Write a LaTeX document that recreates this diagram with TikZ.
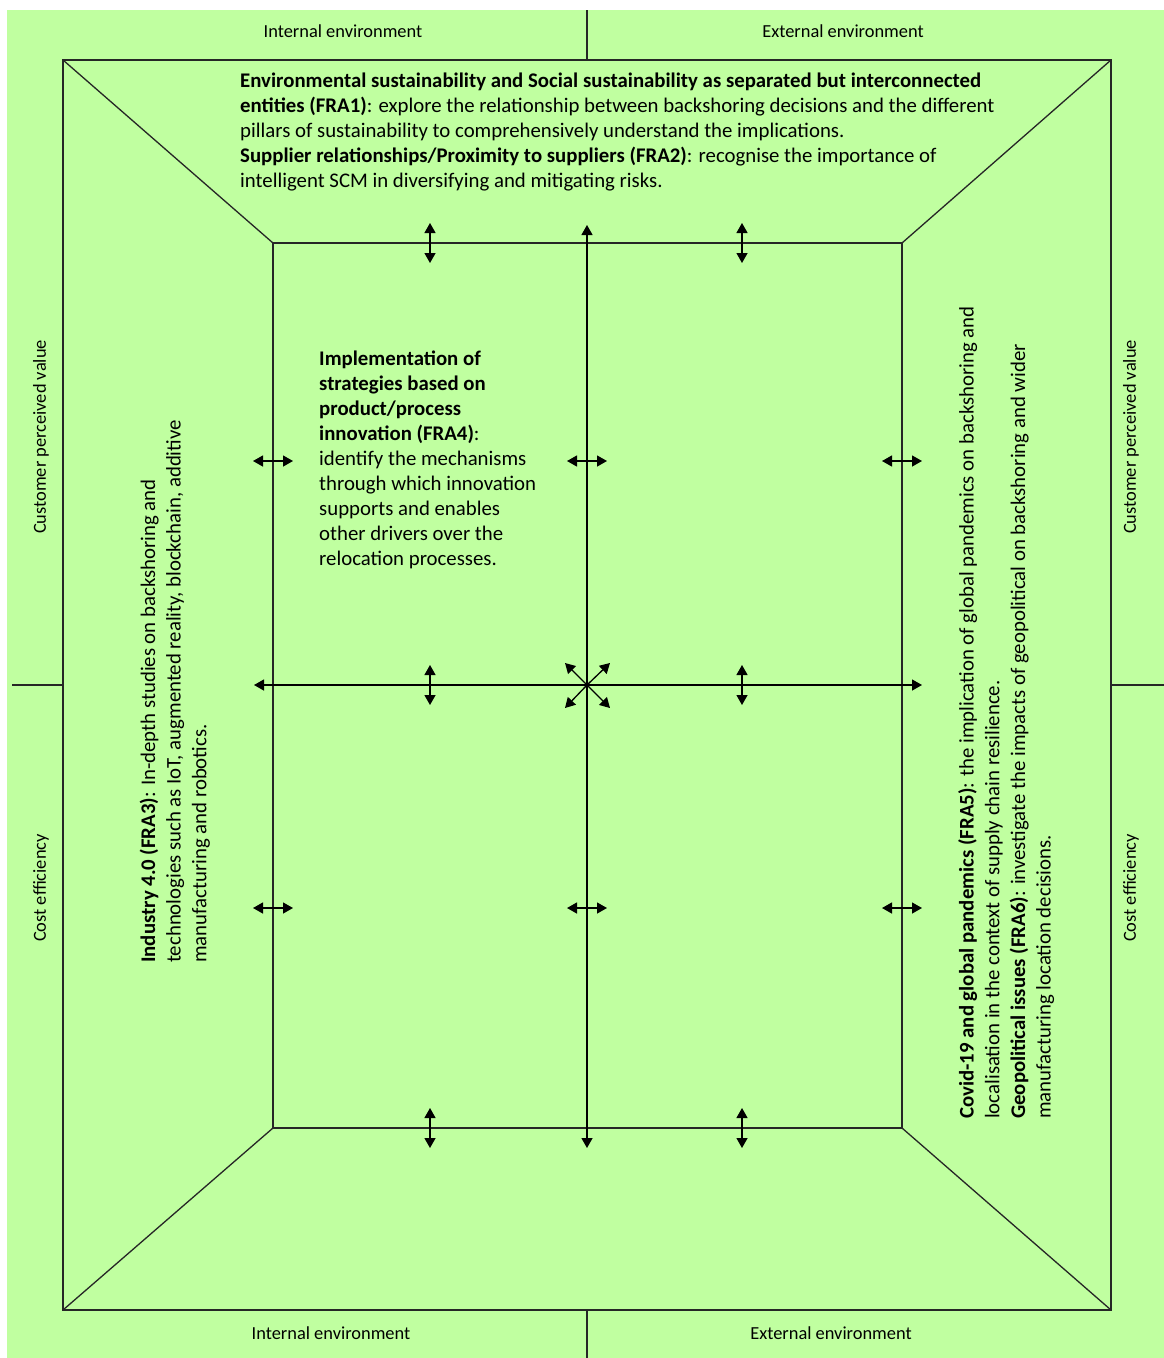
\documentclass[tikz,border=0pt]{standalone}
\usepackage{fontspec}
\setmainfont{Carlito}
\usetikzlibrary{arrows.meta}
\definecolor{panel}{RGB}{192,255,160}
\tikzset{
  frameline/.style={line width=1.8pt,draw=black!85},
  thinline/.style={line width=1.3pt,draw=black!85},
  dbl/.style={line width=1.3pt,{Triangle[length=10pt,width=11pt]}-{Triangle[length=10pt,width=11pt]}},
  sgl/.style={line width=1.3pt,-{Triangle[length=10pt,width=11pt]}},
  sidelab/.style={font=\fontsize{18.4}{22}\selectfont,inner sep=0pt},
  bodytext/.style={font=\fontsize{20.8}{25}\selectfont,inner sep=0pt,align=left},
  sidetext/.style={font=\fontsize{20.8}{25.7}\selectfont,inner sep=0pt,align=left,rotate=90,anchor=north west},
}
\begin{document}
\begin{tikzpicture}[x=1pt,y=-1pt]
% page and panel
\useasboundingbox (0,0) rectangle (1164,1358);
\fill[white] (0,0) rectangle (1164,1358);
\fill[panel] (7,10) rectangle (1164,1358);

% frame corners
\coordinate (o1) at (63,60);   \coordinate (o2) at (1111,60);
\coordinate (o3) at (1111,1310); \coordinate (o4) at (63,1310);
\coordinate (i1) at (273,243); \coordinate (i2) at (902,243);
\coordinate (i3) at (902,1128); \coordinate (i4) at (273,1128);
\coordinate (c) at (587,685);

\draw[frameline] (o1) -- (o2) -- (o3) -- (o4) -- cycle;
\draw[thinline] (i1) -- (i2) -- (i3) -- (i4) -- cycle;
\draw[thinline] (o1) -- (i1) (o2) -- (i2) (o3) -- (i3) (o4) -- (i4);

% outer dividers
\coordinate (tt) at (587,10);  \coordinate (tb) at (587,60);
\coordinate (bt) at (587,1310); \coordinate (bb) at (587,1358);
\coordinate (ll) at (12,685);  \coordinate (lr) at (63,685);
\coordinate (rl) at (1111,685); \coordinate (rr) at (1164,685);
\draw[thinline] (tt) -- (tb) (bt) -- (bb) (ll) -- (lr) (rl) -- (rr);

% central axes
\coordinate (vt) at (587,225); \coordinate (vb) at (587,1148);
\coordinate (hl) at (254,685); \coordinate (hr) at (922,685);
\draw[dbl] (vt) -- (vb);
\draw[dbl] (hl) -- (hr);

% diagonal arrows from the centre
\coordinate (xa) at (565,663); \coordinate (xb) at (610,663);
\coordinate (xd) at (565,708); \coordinate (xe) at (610,708);
\draw[sgl] (c) -- (xa);
\draw[sgl] (c) -- (xb);
\draw[sgl] (c) -- (xd);
\draw[sgl] (c) -- (xe);

% small vertical double arrows
\foreach \x in {430,742}{
  \foreach \y in {243,685,1128}{
    \coordinate (ua) at (\x,\y-20);
    \coordinate (ub) at (\x,\y+20);
    \draw[dbl] (ua) -- (ub);
  }
}
% small horizontal double arrows
\foreach \y in {461,908}{
  \foreach \x in {273,587,902}{
    \coordinate (ua) at (\x-20,\y);
    \coordinate (ub) at (\x+20,\y);
    \draw[dbl] (ua) -- (ub);
  }
}

% edge labels
\node[sidelab] (lt1) at (343,31) {Internal environment};
\node[sidelab] (lt2) at (843,31) {External environment};
\node[sidelab] (lb1) at (331,1333) {Internal environment};
\node[sidelab] (lb2) at (831,1333) {External environment};
\node[sidelab,rotate=90] (sl1) at (41,437) {Customer perceived value};
\node[sidelab,rotate=90] (sl2) at (41,888) {Cost efficiency};
\node[sidelab,rotate=90] (sr1) at (1131,437) {Customer perceived value};
\node[sidelab,rotate=90] (sr2) at (1131,888) {Cost efficiency};

% top block
\node[bodytext,anchor=north west] (fra12) at (240,72.7) {%
\textbf{Environmental sustainability and Social sustainability as separated but interconnected}\\
\textbf{entities (FRA1)}: explore the relationship between backshoring decisions and the different\\
pillars of sustainability to comprehensively understand the implications.\\
\textbf{Supplier relationships/Proximity to suppliers (FRA2)}: recognise the importance of\\
intelligent SCM in diversifying and mitigating risks.};

% centre block
\node[bodytext,anchor=north west] (fra4) at (319,350.7) {%
\textbf{Implementation of}\\
\textbf{strategies based on}\\
\textbf{product/process}\\
\textbf{innovation (FRA4)}:\\
identify the mechanisms\\
through which innovation\\
supports and enables\\
other drivers over the\\
relocation processes.};

% left block
\node[sidetext] (fra3) at (139.4,963) {%
\textbf{Industry 4.0 (FRA3)}: In-depth studies on backshoring and\\
technologies such as IoT, augmented reality, blockchain, additive\\
manufacturing and robotics.};

% right block
\node[sidetext] (fra56) at (958,1119) {%
\textbf{Covid-19 and global pandemics (FRA5)}: the implication of global pandemics on backshoring and\\
localisation in the context of supply chain resilience.\\
\textbf{Geopolitical issues (FRA6)}: investigate the impacts of geopolitical on backshoring and wider\\
manufacturing location decisions.};
\end{tikzpicture}
\end{document}
